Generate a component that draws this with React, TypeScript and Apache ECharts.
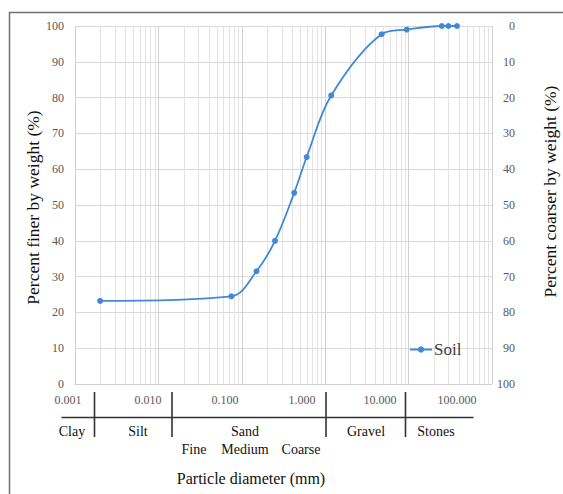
import React, { useEffect, useRef } from "react";
import * as echarts from "echarts";

// Particle size distribution data
const diameters = [0.002, 0.075, 0.15, 0.25, 0.425, 0.6, 1.18, 4.75, 9.5, 25, 30, 38];
const percentFiner = [23.2, 24.5, 31.5, 40.0, 53.4, 63.4, 80.6, 97.7, 99.0, 100, 100, 100];
const seriesName = "Soil";

// Tick labels for the classification table
const xTickLabels = ["0.001", "0.010", "0.100", "1.000", "10.000", "100.000"];
const decades = [0.001, 0.01, 0.1, 1, 10];
const minorMultipliers = [2, 3, 4, 5, 6, 7, 8, 9];
const soilClasses = ["Clay", "Silt", "Sand", "Gravel", "Stones"];
const sandSubclasses = ["Fine", "Medium", "Coarse"];

const SERIF = "Liberation Serif";

export default function App() {
  const ref = useRef<HTMLDivElement>(null);

  useEffect(() => {
    if (!ref.current) return;
    const chart = echarts.init(ref.current, undefined, { renderer: "svg" });

    const minorValues: number[][] = [];
    decades.forEach((d) => {
      minorMultipliers.forEach((m) => {
        minorValues.push([+(d * m).toPrecision(6), 0]);
      });
    });

    const tickLabelX = [68, 148, 225, 302, 380, 457];
    const classX = [72, 138, 245, 366, 436];
    const subX = [194, 245, 301];

    const txt = (text: string, x: number, y: number, size: number, fill: string, rotation = 0) => ({
      type: "text",
      x,
      y,
      rotation,
      style: {
        text,
        fontFamily: SERIF,
        fontSize: size,
        fill,
        align: "center",
        verticalAlign: "middle",
      },
    });

    const graphics: any[] = [
      {
        type: "rect",
        shape: { x: 9.5, y: 12.5, width: 700, height: 700 },
        style: { fill: "none", stroke: "#707070", lineWidth: 1.5 },
        silent: true,
        z: -1,
      },
      txt("Percent finer by weight (%)", 33, 207.5, 17.5, "#111", Math.PI / 2),
      txt("Percent coarser by weight (%)", 550, 191.5, 17.5, "#111", Math.PI / 2),
    ];

    xTickLabels.forEach((t, i) => graphics.push(txt(t, tickLabelX[i], 400, 12, "#595959")));

    const tableLine = (x1: number, y1: number, x2: number, y2: number) => ({
      type: "line",
      shape: { x1, y1, x2, y2 },
      style: { stroke: "#333", lineWidth: 1.6 },
      silent: true,
    });
    graphics.push(tableLine(61.5, 417.5, 473.5, 417.5));
    [94.5, 172, 326, 405.5].forEach((x) => graphics.push(tableLine(x, 392, x, 437)));

    soilClasses.forEach((t, i) => graphics.push(txt(t, classX[i], 431, 14, "#111")));
    sandSubclasses.forEach((t, i) => graphics.push(txt(t, subX[i], 449.5, 14, "#111")));
    graphics.push(txt("Particle diameter (mm)", 251, 478, 16, "#111"));

    const color = "#4189d4";

    chart.setOption({
      animation: false,
      backgroundColor: "#fff",
      textStyle: { fontFamily: SERIF },
      grid: { left: 75, top: 26, width: 417, height: 358, containLabel: false },
      legend: {
        data: [seriesName],
        left: 409,
        top: 341,
        padding: 0,
        itemWidth: 22,
        itemHeight: 8,
        itemGap: 4,
        textStyle: { fontFamily: SERIF, fontSize: 17, color: "#404040", padding: [0, 0, 0, -3] },
      },
      xAxis: {
        type: "log",
        logBase: 10,
        min: 0.001,
        max: 100,
        axisLine: { show: true, lineStyle: { color: "#d0d0d0", width: 1 } },
        axisTick: { show: false },
        axisLabel: { show: false },
        splitLine: { show: true, lineStyle: { color: "#d0d0d0", width: 1 } },
      },
      yAxis: [
        {
          type: "value",
          min: 0,
          max: 100,
          interval: 10,
          position: "left",
          axisLine: { show: true, lineStyle: { color: "#d0d0d0" } },
          axisTick: { show: false },
          axisLabel: { color: "#595959", fontFamily: SERIF, fontSize: 12, margin: 11 },
          splitLine: { show: true, lineStyle: { color: "#d9d9d9", width: 1 } },
        },
        {
          type: "value",
          min: 0,
          max: 100,
          interval: 10,
          inverse: true,
          position: "right",
          axisLine: { show: false },
          axisTick: { show: false },
          axisLabel: { color: "#595959", fontFamily: SERIF, fontSize: 12, margin: 23, align: "right" },
          splitLine: { show: false },
        },
      ],
      series: [
        {
          name: "minor-grid",
          type: "custom",
          z: 1,
          silent: true,
          xAxisIndex: 0,
          yAxisIndex: 0,
          data: minorValues,
          encode: { x: 0, y: 1 },
          renderItem: (params: any, api: any) => {
            const x = api.value(0);
            const p0 = api.coord([x, 0]);
            const p1 = api.coord([x, 100]);
            return {
              type: "line",
              shape: { x1: Math.round(p0[0]) + 0.5, y1: p0[1], x2: Math.round(p1[0]) + 0.5, y2: p1[1] },
              style: { stroke: "#e3e3e3", lineWidth: 1 },
              silent: true,
            };
          },
        },
        {
          name: seriesName,
          type: "line",
          z: 5,
          data: diameters.map((d, i) => [d, percentFiner[i]]),
          smooth: 0.35,
          symbol: "circle",
          symbolSize: 6,
          showSymbol: true,
          lineStyle: { color, width: 1.8 },
          itemStyle: { color },
        },
      ],
      graphic: graphics,
    });

    return () => chart.dispose();
  }, []);

  return (
    <div
      ref={ref}
      style={{ position: "fixed", left: 0, top: 0, width: 563, height: 494, background: "#fff" }}
    />
  );
}
